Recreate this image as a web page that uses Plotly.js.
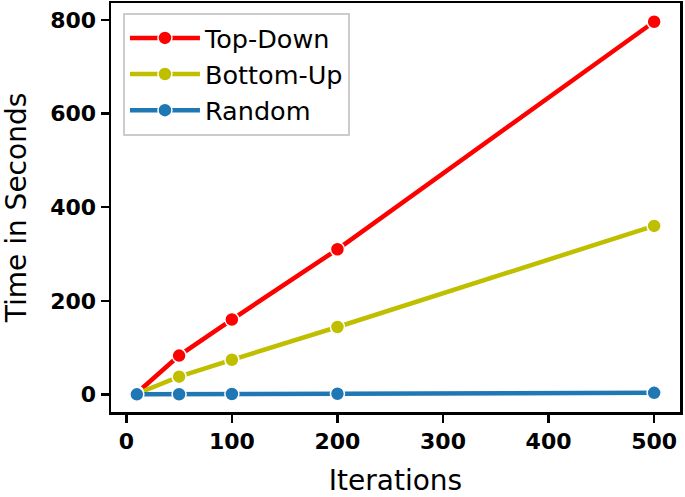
<!DOCTYPE html>
<html><head><meta charset="utf-8">
<script src="https://cdn.plot.ly/plotly-3.0.1.min.js"></script>
<style>html,body{margin:0;padding:0;background:#fff}#chart{width:685px;height:497px}</style>
</head><body><div id="chart"></div>
<script>
const iterations = [10, 50, 100, 200, 500];
const topDown = [3, 83, 160, 310, 796];
const bottomUp = [1.5, 38, 74, 144, 360];
const randomT = [0.3, 0.5, 0.9, 1.5, 3.5];
const seriesNames = ['Top-Down', 'Bottom-Up', 'Random'];
const colors = ['#ff0000', '#bfbf00', '#1f77b4'];
const xTicks = [0, 100, 200, 300, 400, 500];
const yTicks = [0, 200, 400, 600, 800];

const ys = [topDown, bottomUp, randomT];
const traces = ys.map((y, i) => ({
  x: iterations, y: y, name: seriesNames[i], type: 'scatter', mode: 'lines+markers',
  line: {color: colors[i], width: 4.5},
  marker: {color: colors[i], size: 14, line: {color: '#ffffff', width: 1.5}}
}));

const font = {family: 'DejaVu Sans, sans-serif', color: '#000'};
const tickFont = {family: 'DejaVu Sans, sans-serif', color: '#000', size: 22, weight: 'bold'};
const layout = {
  width: 685, height: 497,
  margin: {l: 111, r: 5, t: 3, b: 85},
  paper_bgcolor: '#fff', plot_bgcolor: '#fff',
  showlegend: true,
  legend: {x: 0.021, y: 0.976, xanchor: 'left', yanchor: 'top',
    bgcolor: 'rgba(255,255,255,0.8)', bordercolor: '#cccccc', borderwidth: 2,
    font: Object.assign({size: 25.5}, font), tracegroupgap: 0, itemwidth: 70},
  xaxis: {range: [-14.5, 524.5], tickvals: xTicks, ticktext: xTicks.map(String),
    showgrid: false, zeroline: false, showline: true, mirror: true, linecolor: '#000', linewidth: 2.5,
    ticks: 'outside', ticklen: 8, tickwidth: 2.5, tickcolor: '#000',
    tickfont: tickFont,
    title: {text: 'Iterations', font: Object.assign({size: 28}, font), standoff: 29}},
  yaxis: {range: [-37.5, 836], tickvals: yTicks, ticktext: yTicks.map(String),
    showgrid: false, zeroline: false, showline: true, mirror: true, linecolor: '#000', linewidth: 2.5,
    ticks: 'outside', ticklen: 8, tickwidth: 2.5, tickcolor: '#000',
    tickfont: tickFont,
    title: {text: 'Time in Seconds', font: Object.assign({size: 28}, font), standoff: 18}}
};
Plotly.newPlot('chart', traces, layout, {displayModeBar: false, staticPlot: true});
</script></body></html>
